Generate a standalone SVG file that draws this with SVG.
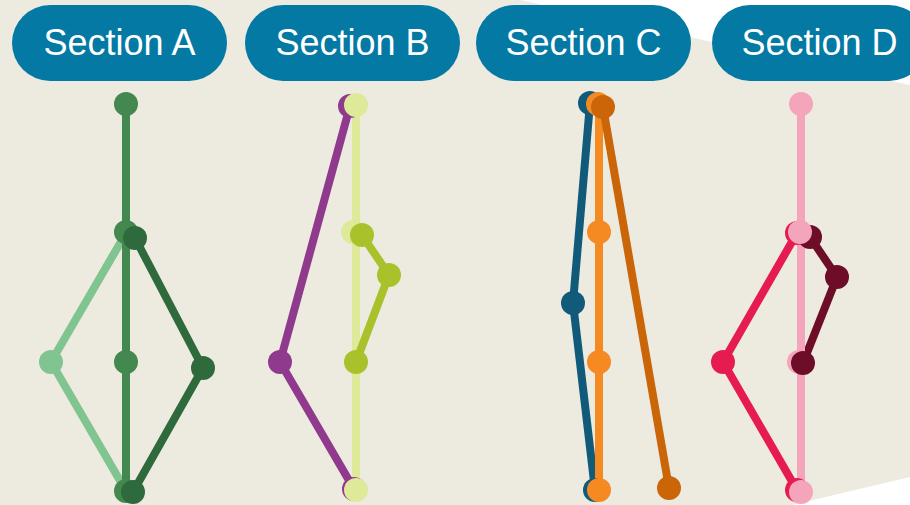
<svg xmlns="http://www.w3.org/2000/svg" width="910" height="505" viewBox="0 0 910 505">
<style>
.pill{fill:#0479a3}
.lbl{font-family:"Liberation Sans",Arial,sans-serif;font-size:36px;fill:#ffffff;text-anchor:middle}
.ln{fill:none;stroke-width:8;stroke-linejoin:round;stroke-linecap:butt}
</style>
<rect x="0" y="0" width="910" height="505" fill="#ffffff"/>
<polygon points="0,0 520,0 910,85 910,477 792,505 0,505" fill="#edeae0"/>
<g id="header-a"><rect class="pill" x="12" y="5" width="215" height="76" rx="38"/><text class="lbl" x="119.5" y="55">Section A</text></g>
<g id="header-b"><rect class="pill" x="245" y="5" width="215" height="76" rx="38"/><text class="lbl" x="352.5" y="55">Section B</text></g>
<g id="header-c"><rect class="pill" x="476" y="5" width="215" height="76" rx="38"/><text class="lbl" x="583.5" y="55">Section C</text></g>
<g id="header-d"><rect class="pill" x="712" y="5" width="215" height="76" rx="38"/><text class="lbl" x="819.5" y="55">Section D</text></g>
<g id="connectors">
<polyline class="ln" stroke="#80c48f" points="126,233 51,362 126,491"/>
<polyline class="ln" stroke="#43894f" points="126,104 126,491"/>
<polyline class="ln" stroke="#2f6a3d" points="135,238 203,368 133,492"/>
<polyline class="ln" stroke="#903a8d" points="350,106 280,362 354,489"/>
<polyline class="ln" stroke="#dfe99a" points="356,105 356,490"/>
<polyline class="ln" stroke="#a9c22b" points="362,235 389,275 356,362"/>
<polyline class="ln" stroke="#115a79" points="590,103 573,303 595,490"/>
<polyline class="ln" stroke="#f68a22" points="599,105 599,490"/>
<polyline class="ln" stroke="#ca6508" points="603,107 669,488"/>
<polyline class="ln" stroke="#e61b50" points="797,233 723,362 797,490"/>
<polyline class="ln" stroke="#6d0d28" points="810,237 837,277 803,363"/>
<polyline class="ln" stroke="#f4a4bb" points="801,104 801,492"/>
</g>
<g id="nodes-a">
<circle id="a1" cx="51" cy="362" r="12" fill="#80c48f"/>
<circle id="a2" cx="126" cy="104" r="12" fill="#43894f"/>
<circle id="a3" cx="126" cy="232" r="12" fill="#43894f"/>
<circle id="a4" cx="126" cy="362" r="12" fill="#43894f"/>
<circle id="a5" cx="126" cy="491" r="12" fill="#43894f"/>
<circle id="a6" cx="135" cy="238" r="12" fill="#2f6a3d"/>
<circle id="a7" cx="203" cy="368" r="12" fill="#2f6a3d"/>
<circle id="a8" cx="133" cy="492" r="12" fill="#2f6a3d"/>
</g>
<g id="nodes-b">
<circle id="b1" cx="350" cy="106" r="12" fill="#903a8d"/>
<circle id="b2" cx="280" cy="362" r="12" fill="#903a8d"/>
<circle id="b3" cx="354" cy="489" r="12" fill="#903a8d"/>
<circle id="b4" cx="356" cy="105" r="12" fill="#dfe99a"/>
<circle id="b5" cx="353" cy="232" r="12" fill="#dfe99a"/>
<circle id="b6" cx="356" cy="490" r="12" fill="#dfe99a"/>
<circle id="b7" cx="362" cy="235" r="12" fill="#a9c22b"/>
<circle id="b8" cx="389" cy="275" r="12" fill="#a9c22b"/>
<circle id="b9" cx="356" cy="362" r="12" fill="#a9c22b"/>
</g>
<g id="nodes-c">
<circle id="c1" cx="590" cy="103" r="12" fill="#115a79"/>
<circle id="c2" cx="573" cy="303" r="12" fill="#115a79"/>
<circle id="c3" cx="595" cy="490" r="12" fill="#115a79"/>
<circle id="c4" cx="598" cy="104" r="12" fill="#f68a22"/>
<circle id="c5" cx="599" cy="232" r="12" fill="#f68a22"/>
<circle id="c6" cx="599" cy="362" r="12" fill="#f68a22"/>
<circle id="c7" cx="599" cy="490" r="12" fill="#f68a22"/>
<circle id="c8" cx="603" cy="107" r="12" fill="#ca6508"/>
<circle id="c9" cx="669" cy="488" r="12" fill="#ca6508"/>
</g>
<g id="nodes-d">
<circle id="d1" cx="797" cy="233" r="12" fill="#e61b50"/>
<circle id="d2" cx="723" cy="362" r="12" fill="#e61b50"/>
<circle id="d3" cx="797" cy="490" r="12" fill="#e61b50"/>
<circle id="d4" cx="810" cy="237" r="12" fill="#6d0d28"/>
<circle id="d5" cx="801" cy="104" r="12" fill="#f4a4bb"/>
<circle id="d6" cx="800" cy="232" r="12" fill="#f4a4bb"/>
<circle id="d7" cx="799" cy="362" r="12" fill="#f4a4bb"/>
<circle id="d8" cx="801" cy="492" r="12" fill="#f4a4bb"/>
<circle id="d9" cx="837" cy="277" r="12" fill="#6d0d28"/>
<circle id="d10" cx="803" cy="363" r="12" fill="#6d0d28"/>
</g>
</svg>
